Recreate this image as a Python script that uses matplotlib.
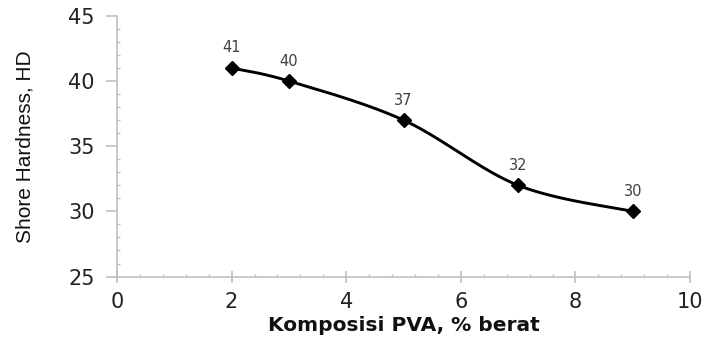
import numpy as np
import matplotlib
matplotlib.use('Agg')
import matplotlib.pyplot as plt
from matplotlib.ticker import MultipleLocator

# data
pva = [2, 3, 5, 7, 9]
hardness = [41, 40, 37, 32, 30]

# the original is a bit stretched sideways, DejaVu is the widest font we have
plt.rcParams['font.family'] = ['DejaVu Sans']


def smooth(x, y, n=40):
    # excel-style smoothed line (bezier through the points)
    x = np.asarray(x, float)
    y = np.asarray(y, float)
    px = np.concatenate([[x[0]], x, [x[-1]]])
    py = np.concatenate([[y[0]], y, [y[-1]]])
    xs, ys = [], []
    t = np.linspace(0, 1, n)
    for i in range(1, len(px) - 2):
        p0 = np.array([px[i], py[i]])
        p3 = np.array([px[i + 1], py[i + 1]])
        c1 = p0 + (np.array([px[i + 1], py[i + 1]]) - np.array([px[i - 1], py[i - 1]])) / 6
        c2 = p3 - (np.array([px[i + 2], py[i + 2]]) - np.array([px[i], py[i]])) / 6
        b = ((1 - t) ** 3)[:, None] * p0 + (3 * (1 - t) ** 2 * t)[:, None] * c1 \
            + (3 * (1 - t) * t ** 2)[:, None] * c2 + (t ** 3)[:, None] * p3
        xs.extend(b[:, 0])
        ys.extend(b[:, 1])
    return xs, ys


fig = plt.figure(figsize=(7.04, 3.41), dpi=100)
ax = fig.add_axes([0.1662, 0.189, 0.814, 0.7645])

sx, sy = smooth(pva, hardness)
ax.plot(sx, sy, color='black', lw=2.1)
ax.plot(pva, hardness, 'D', color='black', ms=7.5)

for xv, yv in zip(pva, hardness):
    ax.annotate(str(yv), (xv, yv), xytext=(0, 9), textcoords='offset points',
                ha='center', va='bottom', fontsize=10.5, color='#404040')

ax.set_xlim(0, 10)
ax.set_ylim(25, 45)
ax.xaxis.set_major_locator(MultipleLocator(2))
ax.xaxis.set_minor_locator(MultipleLocator(0.4))
ax.yaxis.set_major_locator(MultipleLocator(5))
ax.yaxis.set_minor_locator(MultipleLocator(1))

for s in ['top', 'right']:
    ax.spines[s].set_visible(False)
for s in ['left', 'bottom']:
    ax.spines[s].set_color('#c0c0c0')
    ax.spines[s].set_linewidth(1.2)

ax.tick_params(axis='x', which='major', direction='inout', length=8, width=1.2,
               color='#c0c0c0', labelsize=15, pad=7, labelcolor='#222222')
ax.tick_params(axis='y', which='major', direction='out', length=8, width=1.2,
               color='#c0c0c0', labelsize=15, pad=8, labelcolor='#222222')
ax.tick_params(which='minor', direction='in', length=2.5, width=1,
               color='#c0c0c0')

ax.set_xlabel('Komposisi PVA, % berat', fontsize=14.5, fontweight='bold',
              labelpad=3, color='#111111')
ax.set_ylabel('Shore Hardness, HD', fontsize=15, labelpad=24, color='#111111',
              family=['Liberation Sans', 'DejaVu Sans'])

fig.savefig('out.png', dpi=100)
